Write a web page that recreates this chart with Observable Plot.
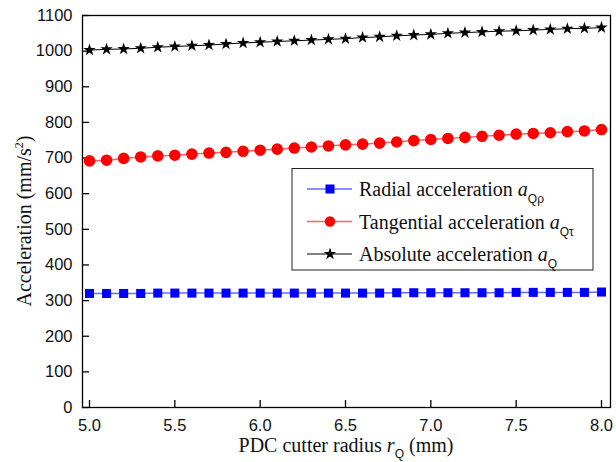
<!DOCTYPE html>
<html>
<head>
<meta charset="utf-8">
<script src="https://cdn.jsdelivr.net/npm/d3@7"></script>
<script src="https://cdn.jsdelivr.net/npm/@observablehq/plot@0.6"></script>
<style>
  html, body { margin: 0; padding: 0; background: #fff; }
  #chart { width: 616px; height: 462px; }
</style>
</head>
<body>
<div id="chart"></div>
<script>
const radius = [5.0,5.1,5.2,5.3,5.4,5.5,5.6,5.7,5.8,5.9,6.0,6.1,6.2,6.3,6.4,6.5,6.6,6.7,6.8,6.9,7.0,7.1,7.2,7.3,7.4,7.5,7.6,7.7,7.8,7.9,8.0];
const radialAcc = [320,320,320,320,321,321,321,321,321,321,321,321,321,321,321,321,321,321,322,322,322,322,322,322,322,323,323,323,323,323,324];
const tangentialAcc = [692,694,699,703,706,708,711,714,716,719,722,725,728,731,734,737,739,742,745,749,752,755,758,761,764,767,769,771,774,776,780];
const absoluteAcc = [1003,1005,1006,1008,1011,1013,1015,1017,1020,1023,1025,1027,1029,1031,1033,1035,1038,1040,1043,1045,1047,1050,1052,1054,1056,1057,1059,1061,1063,1064,1066];
const xTicks = [5.0,5.5,6.0,6.5,7.0,7.5,8.0];
const yTicks = [0,100,200,300,400,500,600,700,800,900,1000,1100];

const series = [
  {key: "radial", values: radialAcc, line: "#6a6aff", fill: "#0000ff", symbol: "square", r: 5.1, label: "Radial acceleration ", sub: "Qρ"},
  {key: "tangential", values: tangentialAcc, line: "#ff6060", fill: "#ff0000", symbol: "circle", r: 5.8, label: "Tangential acceleration ", sub: "Qτ"},
  {key: "absolute", values: absoluteAcc, line: "#000000", fill: "#000000", symbol: "star", r: 3.9, label: "Absolute acceleration ", sub: "Q"}
];
const rows = series.flatMap(s => radius.map((x, i) => ({x, y: s.values[i], key: s.key})));

const W = 616, H = 462, ML = 82, MR = 6, MT = 15, MB = 55, TICK = 7;
const marks = [
  Plot.frame({stroke: "#000", strokeWidth: 1.3}),
  Plot.axisX({ticks: xTicks, tickFormat: d3.format(".1f"), tickSize: 0, tickPadding: 12, label: null}),
  Plot.axisY({ticks: yTicks, tickFormat: d3.format("d"), tickSize: 0, tickPadding: 10, label: null}),
  Plot.tickX(xTicks, {x: d => d, insetTop: H - MT - MB - TICK, stroke: "#000", strokeWidth: 1.3}),
  Plot.tickY(yTicks, {y: d => d, insetRight: W - ML - MR - TICK, stroke: "#000", strokeWidth: 1.3})
];
for (const s of series) {
  const d = rows.filter(r => r.key === s.key);
  marks.push(Plot.line(d, {x: "x", y: "y", stroke: s.line, strokeWidth: s.key === "absolute" ? 1 : 1.5}));
  marks.push(Plot.dot(d, {x: "x", y: "y", symbol: () => s.symbol, r: s.r, fill: s.fill, stroke: "none"}));
}

const plot = Plot.plot({
  width: W,
  height: H,
  marginLeft: ML,
  marginRight: MR,
  marginTop: MT,
  marginBottom: MB,
  style: {fontFamily: "'Liberation Sans', Arial, sans-serif", fontSize: "16.5px", color: "#111", background: "#fff"},
  x: {domain: [5, 8], insetLeft: 7, insetRight: 9},
  y: {domain: [0, 1100]},
  symbol: {type: "identity"},
  marks
});
document.getElementById("chart").appendChild(plot);

const svg = d3.select(plot);
const serif = "'Liberation Serif', 'Times New Roman', serif";
const sans = "'Liberation Sans', Arial, sans-serif";

// X axis label
const xl = svg.append("text").attr("x", 346).attr("y", 452).attr("text-anchor", "middle")
  .attr("font-family", serif).attr("font-size", 20).attr("fill", "#111");
xl.append("tspan").text("PDC cutter radius ");
xl.append("tspan").attr("font-style", "italic").text("r");
xl.append("tspan").attr("font-family", sans).attr("font-size", 12).attr("dy", 6).text("Q");
xl.append("tspan").attr("dy", -6).text(" (mm)");

// Y axis label
const yl = svg.append("text").attr("transform", "translate(31,221) rotate(-90)").attr("text-anchor", "middle")
  .attr("font-family", serif).attr("font-size", 20).attr("fill", "#111");
yl.append("tspan").text("Acceleration (mm/s");
yl.append("tspan").attr("font-size", 12).attr("dy", -8).text("2");
yl.append("tspan").attr("dy", 8).text(")");

// Legend
const lg = svg.append("g");
lg.append("rect").attr("x", 292).attr("y", 168.5).attr("width", 301).attr("height", 101.5)
  .attr("fill", "#fff").attr("stroke", "#222").attr("stroke-width", 1);
const rowY = [189, 221.5, 254];
series.forEach((s, i) => {
  const y = rowY[i];
  lg.append("line").attr("x1", 307).attr("x2", 352).attr("y1", y).attr("y2", y)
    .attr("stroke", s.line).attr("stroke-width", s.key === "absolute" ? 1 : 1.5);
  const sym = s.symbol === "square" ? d3.symbolSquare : s.symbol === "circle" ? d3.symbolCircle : d3.symbolStar;
  lg.append("path").attr("transform", `translate(330,${y})`)
    .attr("d", d3.symbol(sym, Math.PI * s.r * s.r * (s.key === "tangential" ? 0.8 : 1))())
    .attr("fill", s.fill);
  const t = lg.append("text").attr("x", 359).attr("y", y + 7).attr("text-anchor", "start")
    .attr("font-family", serif).attr("font-size", 20).attr("fill", "#111");
  t.append("tspan").text(s.label);
  t.append("tspan").attr("font-style", "italic").text("a");
  t.append("tspan").attr("font-family", sans).attr("font-size", 12).attr("dy", 7).text(s.sub);
});
</script>
</body>
</html>
